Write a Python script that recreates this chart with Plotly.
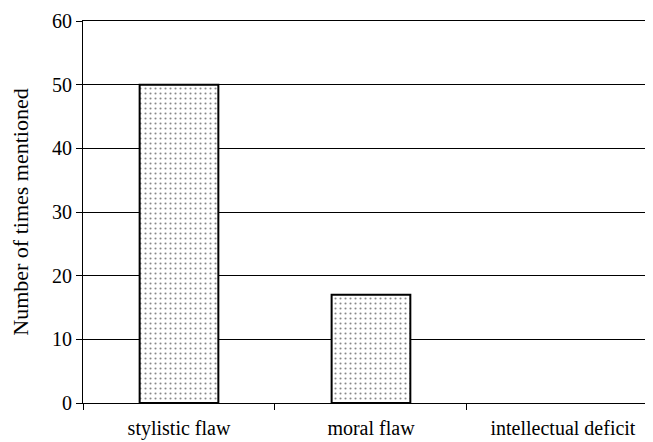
import plotly.graph_objects as go

categories = ["stylistic flaw", "moral flaw", "intellectual deficit"]
counts = [50, 17, 0]
y_ticks = [0, 10, 20, 30, 40, 50, 60]

FONT = '"Liberation Serif", "Times New Roman", Times, serif'

fig = go.Figure(
    go.Bar(
        x=categories,
        y=counts,
        width=0.41,
        marker=dict(
            color="white",
            line=dict(color="black", width=[2, 2, 0]),
            pattern=dict(shape=".", fgcolor="#111111", bgcolor="white", size=5, solidity=0.14),
        ),
        hoverinfo="skip",
    )
)

# page body has an 8px margin, so the figure is 8px smaller than the window
fig.update_layout(
    width=645,
    height=434,
    margin=dict(l=75, r=0, t=13, b=39),
    paper_bgcolor="white",
    plot_bgcolor="white",
    showlegend=False,
    font=dict(family=FONT, color="black", size=20),
)

fig.update_xaxes(
    type="category",
    range=[-0.5, 2.469],
    tickson="boundaries",
    ticks="outside",
    ticklen=6,
    tickcolor="black",
    showline=True,
    mirror=True,
    linecolor="black",
    linewidth=1,
    showgrid=False,
    ticklabelstandoff=7,
    tickfont=dict(family=FONT, size=20),
    automargin=False,
)

fig.update_yaxes(
    range=[0, 60],
    tickvals=y_ticks,
    ticks="outside",
    ticklen=6,
    tickcolor="black",
    showline=True,
    linecolor="black",
    linewidth=1,
    showgrid=True,
    gridcolor="black",
    gridwidth=1,
    zeroline=False,
    tickfont=dict(family=FONT, size=20),
    automargin=False,
    title=dict(text="Number of times mentioned", font=dict(family=FONT, size=22), standoff=18),
)

fig.write_html("out.html")
